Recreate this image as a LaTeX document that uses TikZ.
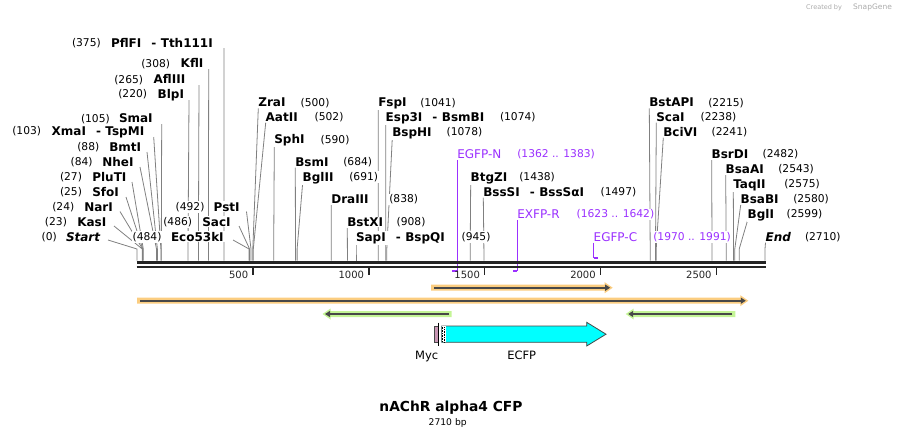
\documentclass[tikz,border=0pt]{standalone}
\usepackage{fontspec}
\setmainfont{DejaVu Sans}
\usetikzlibrary{backgrounds,arrows.meta}
\definecolor{leadgray}{RGB}{128,128,128}
\definecolor{axisc}{RGB}{36,36,36}
\definecolor{primc}{RGB}{155,48,255}
\definecolor{orangehl}{RGB}{251,205,128}
\definecolor{greenhl}{RGB}{196,245,150}
\definecolor{featline}{RGB}{72,72,72}
\definecolor{mycc}{RGB}{200,150,180}
\definecolor{cfpc}{RGB}{0,255,255}
\definecolor{credc}{RGB}{170,170,170}
\newcommand\sepd{\hspace{10pt}-\hspace{4.5pt}}
\tikzset{
  nm/.style={font=\fontsize{12}{14}\selectfont\bfseries, inner sep=1pt, outer sep=0pt, fill=white, anchor=base west},
  num/.style={font=\fontsize{10.7}{12}\selectfont, inner sep=1pt, outer sep=0pt, fill=white, anchor=base west},
  pnm/.style={font=\fontsize{12}{14}\selectfont, text=primc, inner sep=1pt, outer sep=0pt, fill=white, anchor=base west},
  pnum/.style={num, text=primc},
  leader/.style={draw=leadgray, line width=0.8pt},
  primline/.style={draw=primc, line width=1pt},
  primbar/.style={draw=primc, line width=2pt},
  tickl/.style={font=\fontsize{10}{12}\selectfont, inner sep=1pt, anchor=base east, text=axisc},
  featlab/.style={font=\fontsize{11.5}{13}\selectfont, inner sep=1pt, anchor=base},
  darkarrow/.style={draw=featline, line width=2pt},
}
% label: id, y-centre, name x, name, number x, number
\newcommand\enz[6]{%
  \node[nm] (n#1) at ({#3-1},{#2+4.3}) {#4};
  \node[num] (c#1) at ({#5-1},{#2+3.9}) {#6};}
% leader: id, start x, start y, site x
\newcommand\ld[4]{%
  \coordinate (t#1) at (#2,#3);
  \coordinate (b#1) at (#4,260.5);
  \draw[leader] (t#1) -- (#4,249) -- (b#1);}
% forward feature bar: x0, tip x, y, colour
\newcommand\fwdbar[4]{%
  \fill[#4] (#1,{#3-3}) -- ({#2-8},{#3-3}) -- ({#2-8},{#3-5.5}) -- (#2,#3) -- ({#2-8},{#3+5.5}) -- ({#2-8},{#3+3}) -- (#1,{#3+3}) -- cycle;
  \draw[darkarrow, -{Triangle[length=5pt,width=6pt]}] ({#1+3},#3) -- ({#2-2.5},#3);}
% backward feature bar: tip x, x1, y, colour
\newcommand\bwdbar[4]{%
  \fill[#4] (#2,{#3-3}) -- ({#1+8},{#3-3}) -- ({#1+8},{#3-5.5}) -- (#1,#3) -- ({#1+8},{#3+5.5}) -- ({#1+8},{#3+3}) -- (#2,{#3+3}) -- cycle;
  \draw[darkarrow, -{Triangle[length=5pt,width=6pt]}] ({#2-3},#3) -- ({#1+2.5},#3);}
\begin{document}
\begin{tikzpicture}[x=1pt,y=-1pt]
\useasboundingbox (0,0) rectangle (903,437);

% credit
\node[font=\fontsize{6.5}{8}\selectfont, text=credc, anchor=west, inner sep=0pt] (cred) at (806,7.5) {Created by};
\node[font=\fontsize{7.5}{9}\selectfont, text=credc, anchor=west, inner sep=0pt] (snap) at (853,7.5) {SnapGene};

% ---------- enzyme labels: left cluster ----------
\enz{pfl}{42.7}{111}{PflFI\sepd Tth111I}{72}{(375)}
\enz{kfl}{63.3}{180.7}{KflI}{141.3}{(308)}
\enz{afl}{79.3}{153.7}{AflIII}{114.3}{(265)}
\enz{blp}{94}{157.7}{BlpI}{118.3}{(220)}
\enz{sma}{118.3}{119}{SmaI}{81}{(105)}
\enz{xma}{130.7}{51.7}{XmaI\sepd TspMI}{12.3}{(103)}
\enz{bmt}{146.7}{109.3}{BmtI}{77.3}{(88)}
\enz{nhe}{161.7}{102.3}{NheI}{70.7}{(84)}
\enz{plu}{176.7}{92.3}{PluTI}{60}{(27)}
\enz{sfo}{191.7}{92.3}{SfoI}{60}{(25)}
\enz{nar}{206.7}{84.3}{NarI}{52.3}{(24)}
\enz{kas}{221.7}{77.3}{KasI}{45}{(23)}
\enz{sta}{236.7}{66}{\itshape Start}{41.7}{(0)}
\enz{eco}{236.7}{171}{Eco53kI}{132.7}{(484)}
\enz{sac}{221.7}{202.3}{SacI}{163.3}{(486)}
\enz{pst}{206.7}{213.7}{PstI}{175.7}{(492)}

% ---------- middle cluster ----------
\enz{zra}{102.3}{258.3}{ZraI}{300.7}{(500)}
\enz{aat}{116.7}{265.7}{AatII}{314.7}{(502)}
\enz{sph}{139.3}{274.3}{SphI}{320.7}{(590)}
\enz{bsm}{161.7}{295.3}{BsmI}{343.3}{(684)}
\enz{bglii}{176.7}{302.7}{BglII}{349.3}{(691)}
\enz{dra}{199}{331.3}{DraIII}{389.3}{(838)}
\enz{bstx}{222}{347.3}{BstXI}{396.7}{(908)}
\enz{sap}{236.7}{356}{SapI\sepd BspQI}{461.7}{(945)}
\enz{fsp}{102.3}{378.3}{FspI}{420.3}{(1041)}
\enz{esp}{116.7}{385.7}{Esp3I\sepd BsmBI}{500}{(1074)}
\enz{bsph}{131.7}{392.3}{BspHI}{446.7}{(1078)}
\enz{btg}{176.7}{470.7}{BtgZI}{519.3}{(1438)}
\enz{bss}{191.7}{483.3}{BssSI\sepd BssSαI}{600.7}{(1497)}

% ---------- right cluster ----------
\enz{bstap}{102.3}{649.3}{BstAPI}{708.3}{(2215)}
\enz{sca}{116.7}{656.3}{ScaI}{700.7}{(2238)}
\enz{bci}{131.7}{663.3}{BciVI}{711.7}{(2241)}
\enz{bsrd}{154}{711.7}{BsrDI}{762.7}{(2482)}
\enz{bsaa}{169}{725.7}{BsaAI}{778.3}{(2543)}
\enz{taq}{184}{733.3}{TaqII}{784.3}{(2575)}
\enz{bsab}{199}{740.7}{BsaBI}{793.3}{(2580)}
\enz{bgli}{214}{747.7}{BglI}{786.7}{(2599)}
\enz{end}{236.7}{765.7}{\itshape End}{805}{(2710)}

% ---------- primer labels ----------
\node[pnm] (pN) at (456.3,158.3) {EGFP-N};
\node[pnum] (pNc) at (516.3,157.9) {(1362 .. 1383)};
\node[pnm] (pR) at (516.3,218.3) {EXFP-R};
\node[pnum] (pRc) at (575.7,217.9) {(1623 .. 1642)};
\node[pnm] (pC) at (592.7,241) {EGFP-C};
\node[pnum] (pCc) at (652.3,240.6) {(1970 .. 1991)};

\begin{scope}[on background layer]
% left cluster leaders
\ld{pfl}{224}{48}{223.9}
\ld{kfl}{208.7}{69}{208.4}
\ld{afl}{199}{85}{198.4}
\ld{blp}{189}{100}{188}
\ld{sma}{161.7}{124}{161.3}
\ld{xma}{153.7}{137}{160.9}
\ld{bmt}{147}{152}{157.4}
\ld{nhe}{140}{167}{156.5}
\ld{plu}{132}{182}{143.3}
\ld{sfo}{126}{197}{142.8}
\ld{nar}{120}{211.5}{142.6}
\ld{kas}{114}{226}{142.3}
\ld{sta}{108}{240}{137}
\ld{eco}{233}{240}{249.1}
\ld{sac}{239}{226}{249.6}
\ld{pst}{246.5}{211.5}{251}
% middle
\ld{zra}{258.3}{108.3}{252.8}
\ld{aat}{265.7}{122.7}{253.3}
\ld{sph}{274.3}{145.3}{273.7}
\ld{bsm}{295.3}{167.7}{295.5}
\ld{bglii}{302.7}{182.7}{297.1}
\ld{dra}{331.3}{205}{331.2}
\ld{bstx}{347.3}{228}{347.4}
\ld{sap}{356}{242.7}{356}
\ld{fsp}{378.3}{108.3}{378.2}
\ld{esp}{385.7}{122.7}{385.8}
\ld{bsph}{392.3}{137.7}{386.8}
\ld{btg}{470.7}{182.7}{470.2}
\ld{bss}{483.3}{197.7}{483.9}
% right
\ld{bstap}{649.3}{108.3}{650.2}
\ld{sca}{656.3}{122.7}{655.5}
\ld{bci}{663.3}{137.7}{656.2}
\ld{bsrd}{711.7}{160}{712}
\ld{bsaa}{725.7}{175}{726.2}
\ld{taq}{733.3}{190}{733.6}
\ld{bsab}{740.7}{205}{734.8}
\ld{bgli}{747.7}{220}{739.2}
\ld{end}{765.5}{242.7}{765}
% primer leaders
\coordinate (pNt) at (457.3,160); \coordinate (pNb) at (457.3,271);
\draw[primline] (pNt) -- (pNb);
\draw[primbar] (452.3,271) -- (pNb);
\coordinate (pRt) at (517.3,220); \coordinate (pRb) at (517.3,271);
\draw[primline] (pRt) -- (pRb);
\draw[primbar] (513,271) -- (pRb);
\coordinate (pCt) at (593.7,242.5); \coordinate (pCb) at (593.7,257.5);
\draw[primline] (pCt) -- (pCb);
\draw[primbar] (pCb) -- (597.5,257.5);
\end{scope}

% ---------- sequence axis ----------
\coordinate (ax0) at (136.5,262.2);
\coordinate (ax1) at (765.7,262.2);
\draw[axisc, line width=3pt] (ax0) -- (ax1);
\draw[axisc, line width=2.2pt] (136.5,266.6) -- (765.7,266.6);
\foreach \t/\x in {500/252.9,1000/368.7,1500/484.6,2000/600.4,2500/716.3}{
  \draw[axisc, line width=1.6pt] (\x,266) -- (\x,274.5);
  \node[tickl] (k\t) at ({\x-3.5},278.8) {\t};
}

% ---------- features ----------
\fwdbar{431}{612.7}{287.7}{orangehl}
\fwdbar{137}{748.3}{300.7}{orangehl}
\bwdbar{322.5}{451.5}{314}{greenhl}
\bwdbar{625.7}{735.3}{314}{greenhl}

% Myc
\draw[draw=featline, fill=mycc, line width=0.5pt] (434.6,326) rectangle (438.6,342.3);
\draw[black, line width=0.8pt] (438.6,322.7) -- (438.6,345.5);
% ECFP arrow
\draw[draw=featline, fill=cfpc, line width=0.8pt]
  (441.7,326) -- (586.7,326) -- (586.7,322.3) -- (606,334.2) -- (586.7,346) -- (586.7,342.3) -- (441.7,342.3) -- cycle;
\fill[white] (442.1,326.4) rectangle (445.5,341.9);
\draw[black, line width=0.7pt, dash pattern=on 0.8pt off 0.8pt] (442.8,326.5) -- (442.8,342);
\draw[black, line width=0.7pt, dash pattern=on 0.8pt off 0.8pt] (444.6,327.3) -- (444.6,342);
\node[featlab] (myc) at (426.7,359.8) {Myc};
\node[featlab] (ecfp) at (521.7,359.8) {ECFP};

% ---------- title ----------
\node[font=\fontsize{13.8}{16}\selectfont\bfseries, anchor=base, inner sep=0pt] (title) at (451,411) {nAChR alpha4 CFP};
\node[font=\fontsize{9.2}{11}\selectfont, anchor=base, inner sep=0pt] (bp) at (447.7,425) {2710 bp};
\end{tikzpicture}
\end{document}
